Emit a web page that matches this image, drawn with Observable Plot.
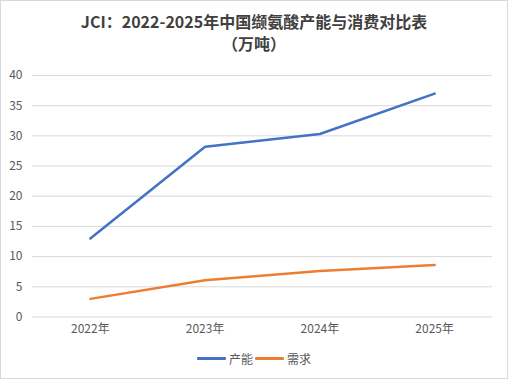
<!DOCTYPE html>
<html>
<head>
<meta charset="utf-8">
<script src="https://cdn.jsdelivr.net/npm/d3@7"></script>
<script src="https://cdn.jsdelivr.net/npm/@observablehq/plot@0.6"></script>
<style>
  html, body { margin: 0; padding: 0; background: #fff; }
  #chart { width: 508px; height: 379px; box-sizing: border-box; border: 1px solid #d9d9d9; position: relative; font-family: "Noto Sans CJK SC", "Noto Sans", sans-serif; overflow: hidden; }
  #title { position: absolute; left: 0; top: 9px; width: 100%; text-align: center; font-size: 16px; font-weight: bold; color: #404040; line-height: 22px; }
  #plot { position: absolute; left: -1px; top: 59px; }
  #legend { position: absolute; left: 0; top: 349px; width: 100%; display: flex; justify-content: center; align-items: center; font-size: 12px; color: #595959; }
  .sw { display: inline-block; width: 29px; height: 3px; margin-right: 3px; border-radius: 1px; }
  .item { display: flex; align-items: center; margin: 0 1px; }
</style>
</head>
<body>
<div id="chart">
  <div id="title">JCI：2022-2025年中国缬氨酸产能与消费对比表<br>（万吨）</div>
  <div id="plot"></div>
  <div id="legend"></div>
</div>
<script>
const years = ["2022年", "2023年", "2024年", "2025年"];
const capacity = [13, 28.2, 30.3, 37];
const demand = [3, 6.1, 7.6, 8.6];
const seriesNames = ["产能", "需求"];
const seriesColors = ["#4472C4", "#ED7D31"];
const yTicks = [0, 5, 10, 15, 20, 25, 30, 35, 40];

const rows = [];
years.forEach((y, i) => {
  rows.push({year: y, value: capacity[i], series: seriesNames[0]});
  rows.push({year: y, value: demand[i], series: seriesNames[1]});
});

const plot = Plot.plot({
  width: 508,
  height: 280,
  marginTop: 15,
  marginBottom: 23,
  marginLeft: 32,
  marginRight: 15,
  style: { fontFamily: '"Noto Sans CJK SC", "Noto Sans", sans-serif', fontSize: "12px", color: "#595959", background: "transparent" },
  x: { domain: years, type: "point", padding: 0.5, label: null },
  y: { domain: [0, 40], label: null },
  color: { domain: seriesNames, range: seriesColors },
  marks: [
    Plot.gridY(yTicks, { stroke: "#d9d9d9", strokeOpacity: 1, strokeWidth: 1 }),
    Plot.axisY(yTicks, { tickSize: 0, tickPadding: 10, label: null, fill: "#595959", fontSize: 12 }),
    Plot.axisX({ tickSize: 0, tickPadding: 8, label: null, fill: "#595959", fontSize: 12 }),
    Plot.line(rows, { x: "year", y: "value", z: "series", stroke: "series", strokeWidth: 2.5, strokeLinecap: "round", strokeLinejoin: "round" })
  ]
});
document.getElementById("plot").appendChild(plot);

const legend = document.getElementById("legend");
seriesNames.forEach((n, i) => {
  const it = document.createElement("div");
  it.className = "item";
  it.innerHTML = `<span class="sw" style="background:${seriesColors[i]}"></span><span>${n}</span>`;
  legend.appendChild(it);
});
</script>
</body>
</html>
